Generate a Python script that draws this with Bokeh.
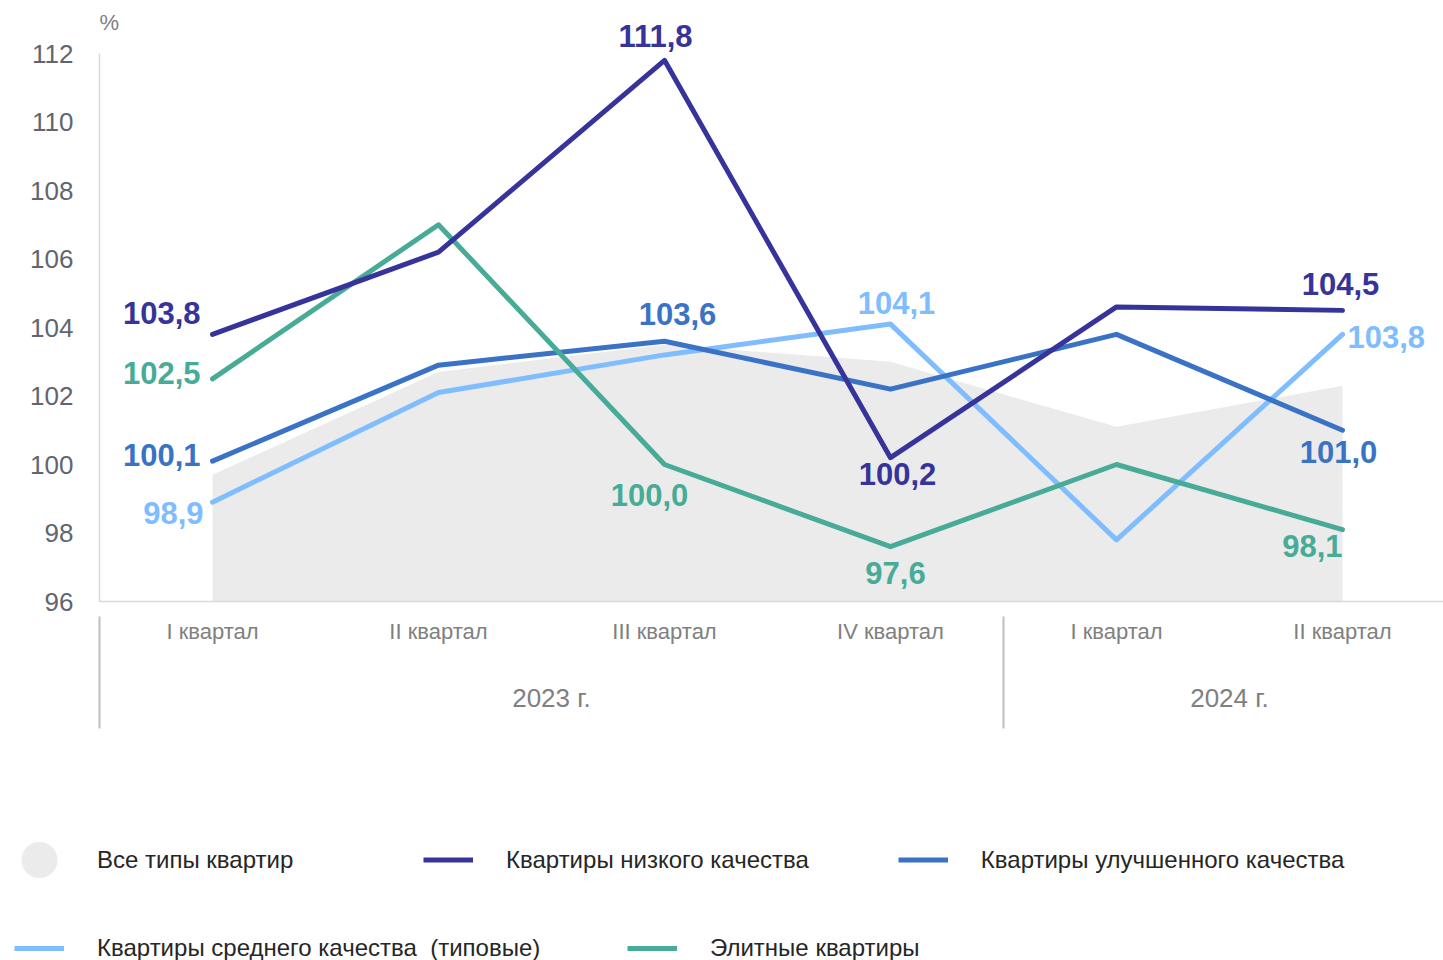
from bokeh.plotting import figure
from bokeh.models import (Range1d, LinearAxis, FixedTicker, Legend, LegendItem,
                          Label, ColumnDataSource)
from bokeh.core.properties import value
from bokeh.embed import file_html
from bokeh.resources import INLINE

# ---------------- data ----------------
quarters = ["I квартал", "II квартал", "III квартал", "IV квартал", "I квартал", "II квартал"]
years = ["2023 г.", "2024 г."]
quarter_year = [0, 0, 0, 0, 1, 1]

all_types = [99.7, 102.7, 103.5, 103.0, 101.1, 102.3]
low_quality = [103.8, 106.2, 111.8, 100.2, 104.6, 104.5]
improved = [100.1, 102.9, 103.6, 102.2, 103.8, 101.0]
standard = [98.9, 102.1, 103.2, 104.1, 97.8, 103.8]
elite = [102.5, 107.0, 100.0, 97.6, 100.0, 98.1]

y_ticks = list(range(96, 113, 2))

names = {
    "all": "Все типы квартир",
    "low": "Квартиры низкого качества",
    "imp": "Квартиры улучшенного качества",
    "std": "Квартиры среднего качества  (типовые)",
    "eli": "Элитные квартиры",
}

# ---------------- styles ----------------
FONT = "Liberation Sans"
colors = {"all": "#ebebeb", "low": "#36339a", "imp": "#3a73c6",
          "std": "#80bdff", "eli": "#48ab97"}
series = {"low": low_quality, "imp": improved, "std": standard, "eli": elite}

# label placement: (series, point index, align, dx px, dy px)
label_specs = [
    ("low", 0, "right", -12, -21),
    ("low", 2, "center", -9, -24),
    ("low", 3, "center", 7, 16),
    ("low", 5, "center", -2, -26),
    ("imp", 0, "right", -12, -6),
    ("imp", 2, "center", 13, -27),
    ("imp", 5, "center", -4, 22),
    ("std", 0, "right", -9, 11),
    ("std", 3, "center", 6, -21),
    ("std", 5, "left", 5, 3),
    ("eli", 0, "right", -12, -6),
    ("eli", 2, "center", -15, 30),
    ("eli", 3, "center", 5, 26),
    ("eli", 5, "right", 0, 16),
]

W = 1443
H1, H2 = 760, 200
LEFT = 99
FRAME_BOTTOM = 601
PX_PER_Q = 226
PX_PER_UNIT = 34.25
x_idx = list(range(len(quarters)))
x_end = -0.5 + (W - LEFT) / PX_PER_Q
y_end = 96 + FRAME_BOTTOM / PX_PER_UNIT

p = figure(width=W, height=H1, x_range=Range1d(-0.5, x_end), y_range=Range1d(96, y_end),
           output_backend="svg", toolbar_location=None,
           min_border_left=LEFT, min_border_right=0, min_border_top=0,
           min_border_bottom=H1 - FRAME_BOTTOM, x_axis_type=None, y_axis_type=None)
p.outline_line_color = None
p.background_fill_color = "white"
p.border_fill_color = "white"

# area
p.varea(x=x_idx, y1=[96] * len(x_idx), y2=all_types, fill_color=colors["all"])

# lines
for key in ["std", "imp", "eli", "low"]:
    p.line(x=x_idx, y=series[key], line_color=colors[key], line_width=5,
           line_join="round", line_cap="round")

# data labels
groups = {}
for key, i, align, dx, dy in label_specs:
    g = groups.setdefault((key, align), {"x": [], "y": [], "t": [], "dx": [], "dy": []})
    v = series[key][i]
    g["x"].append(x_idx[i])
    g["y"].append(v)
    g["t"].append(f"{v:.1f}".replace(".", ","))
    g["dx"].append(dx)
    g["dy"].append(dy)
for (key, align), g in groups.items():
    p.text(x="x", y="y", text="t", x_offset="dx", y_offset="dy",
           source=ColumnDataSource(g), text_align=align, text_baseline="middle",
           text_font=value(FONT), text_font_style="bold", text_font_size="31px",
           text_color=colors[key])

# y axis
yaxis = LinearAxis(ticker=FixedTicker(ticks=y_ticks), bounds=(96, 112))
yaxis.axis_line_color = "#d9d9d9"
yaxis.axis_line_width = 1.5
yaxis.major_tick_line_color = None
yaxis.minor_tick_line_color = None
yaxis.major_label_standoff = 20
yaxis.major_label_text_font = FONT
yaxis.major_label_text_font_size = "26px"
yaxis.major_label_text_color = "#60656f"
p.add_layout(yaxis, "left")

# quarter axis
qaxis = LinearAxis(ticker=FixedTicker(ticks=x_idx, minor_ticks=[]),
                   major_label_overrides={i: q for i, q in enumerate(quarters)})
qaxis.axis_line_color = "#d9d9d9"
qaxis.axis_line_width = 1.5
qaxis.major_tick_line_color = None
qaxis.major_tick_out = 0
qaxis.major_tick_in = 0
qaxis.minor_tick_line_color = None
qaxis.major_label_standoff = 17
qaxis.major_label_text_font = FONT
qaxis.major_label_text_font_size = "22px"
qaxis.major_label_text_color = "#808080"
p.add_layout(qaxis, "below")

# year axis, group separators drawn as its minor ticks
bounds = [min(i for i, q in enumerate(quarter_year) if q == k) - 0.5 for k in range(len(years))]
year_pos = [sum(i for i, q in enumerate(quarter_year) if q == k) /
            quarter_year.count(k) for k in range(len(years))]
yr_axis = LinearAxis(ticker=FixedTicker(ticks=year_pos, minor_ticks=bounds),
                     major_label_overrides={pos: y for pos, y in zip(year_pos, years)})
yr_axis.axis_line_color = None
yr_axis.major_tick_line_color = None
yr_axis.major_tick_out = 0
yr_axis.major_tick_in = 0
yr_axis.minor_tick_line_color = "#bfbfbf"
yr_axis.minor_tick_line_width = 2
yr_axis.minor_tick_in = 30
yr_axis.minor_tick_out = 82
yr_axis.major_label_standoff = -46
yr_axis.major_label_text_font = FONT
yr_axis.major_label_text_font_size = "26px"
yr_axis.major_label_text_color = "#808080"
p.add_layout(yr_axis, "below")

# "%" label
p.add_layout(Label(x=-0.5, y=112, x_offset=0, y_offset=31, text="%",
                   text_font=FONT, text_font_size="22px", text_color="#808080",
                   text_baseline="middle", text_align="left"))

# ---------------- legend figure ----------------
q = figure(width=W, height=H2, x_range=Range1d(0, 1), y_range=Range1d(0, 1),
           output_backend="svg", toolbar_location=None,
           min_border_left=0, min_border_right=0, min_border_top=0, min_border_bottom=0,
           x_axis_type=None, y_axis_type=None)
q.outline_line_color = None
q.border_fill_color = "white"

# legend swatches (kept outside the visible range of the legend figure)
leg_r = {"all": q.scatter(x=[5], y=[5], marker="circle", fill_color=colors["all"],
                          line_color=colors["all"], line_width=18)}
for key in ["low", "imp", "std", "eli"]:
    leg_r[key] = q.line(x=[5, 6], y=[5, 5], line_color=colors[key], line_width=5)


def make_legend(keys, loc, label_width, spacing, glyph_height):
    lg = Legend(items=[LegendItem(label=names[k], renderers=[leg_r[k]]) for k in keys],
                location=loc, orientation="horizontal")
    lg.glyph_width = 50
    lg.glyph_height = glyph_height
    lg.label_standoff = 33
    lg.label_width = label_width
    lg.spacing = spacing
    lg.padding = 6
    lg.margin = 0
    lg.border_line_color = None
    lg.background_fill_alpha = 0
    lg.label_text_font = FONT
    lg.label_text_font_size = "24px"
    lg.label_text_color = "#262626"
    lg.label_height = 24
    return lg


q.add_layout(make_legend(["all", "low", "imp"], (14, 78), 237, 89, 45))
q.add_layout(make_legend(["std", "eli"], (14, -2), 455, 75, 24))

open("out.html", "w").write(file_html([p, q], INLINE))
